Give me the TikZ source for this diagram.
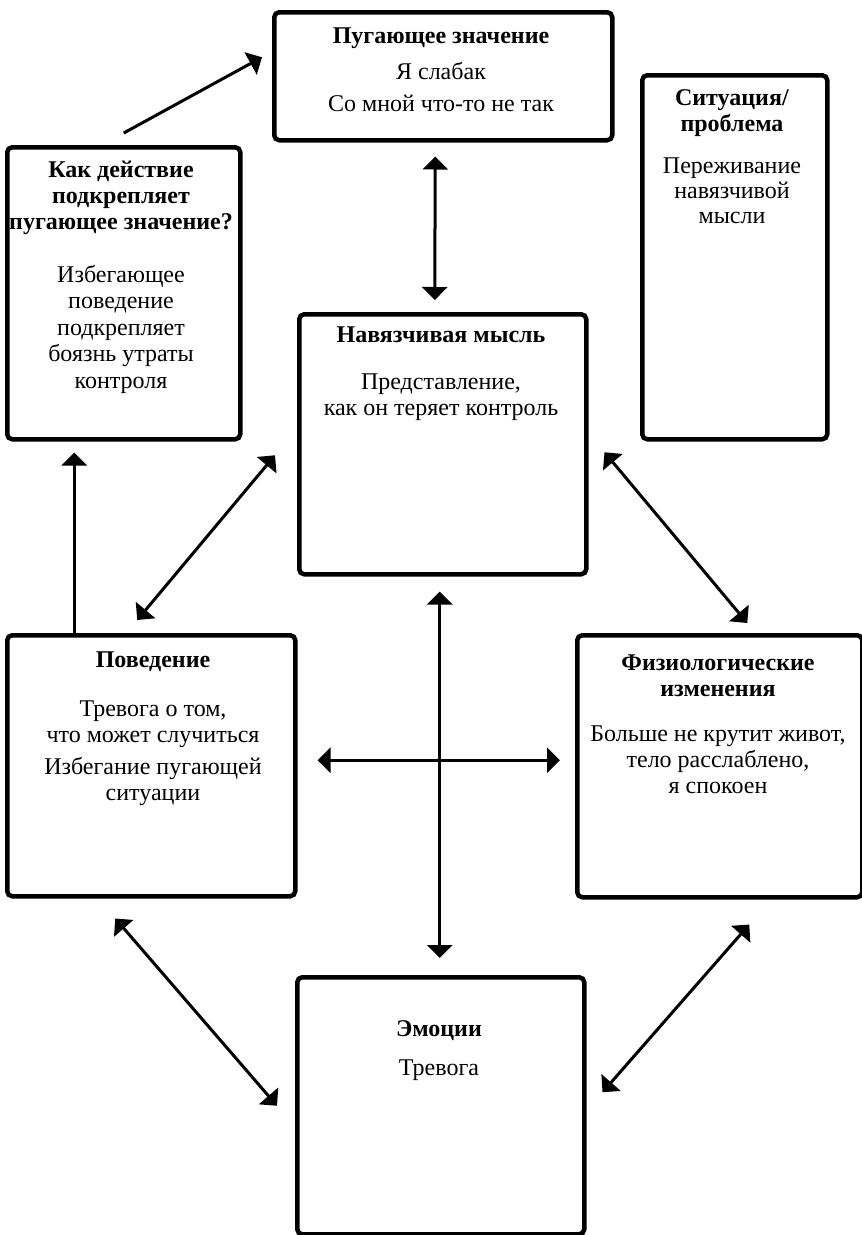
\documentclass[tikz,border=0pt]{standalone}
\usepackage{fontspec}
\setmainfont{Liberation Serif}
\usepackage{tikz}
\usetikzlibrary{positioning,calc,arrows.meta}

\begin{document}
\begin{tikzpicture}[x=1pt, y=-1pt,
                    box/.style={draw, line width=4.5pt, rounded corners=5pt, anchor=north west, inner sep=0pt},
                    txt/.style={align=center, anchor=base, inner sep=0pt},
                    arr/.style={line width=3pt, -{Triangle[length=13pt,width=25pt]}},
                    dbl/.style={line width=3pt, {Triangle[length=13pt,width=25pt]}-{Triangle[length=13pt,width=25pt]}},
                    every node/.style={font=\fontsize{24}{26}\selectfont}]
  \useasboundingbox (0,0) rectangle (862,1235);
  % boxes
  \node[box, minimum width=338pt, minimum height=128pt] (meaning) at (272,10) {};
  \node[box, minimum width=233pt, minimum height=292pt] (reinforce) at (5,145) {};
  \node[box, minimum width=185pt, minimum height=364pt] (situation) at (640,73) {};
  \node[box, minimum width=287pt, minimum height=260pt] (thought) at (297,312) {};
  \node[box, minimum width=288pt, minimum height=261pt] (behaviour) at (5,633) {};
  \node[box, minimum width=285pt, minimum height=262pt] (physio) at (575,633) {};
  \node[box, minimum width=287pt, minimum height=257pt] (emotion) at (295,975) {};
  % texts (placed at the baseline of their last line)
  \node[txt] (meaningtxt) at (441,111)
    {\textbf{Пугающее значение}\\[10pt] Я слабак\\[6pt] Со мной что-то не так};
  \node[txt] (reinforcetxt) at (121,388)
    {\textbf{Как действие}\\ \textbf{подкрепляет}\\ \textbf{пугающее значение?}\\[27pt]
     Избегающее\\[0.5pt] поведение\\[0.5pt] подкрепляет\\[0.5pt] боязнь утраты\\[0.5pt] контроля};
  \node[txt] (situationtxt) at (732,223)
    {\textbf{Ситуация/}\\ \textbf{проблема}\\[16pt] Переживание\\[-1pt] навязчивой\\[-1pt] мысли};
  \node[txt] (thoughttxt) at (441,415)
    {\textbf{Навязчивая мысль}\\[21pt] Представление,\\ как он теряет контроль};
  \node[txt] (behaviourtxt) at (153,800)
    {\textbf{Поведение}\\[23.5pt] Тревога о том,\\ что может случиться\\[5.5pt] Избегание пугающей\\ ситуации};
  \node[txt] (physiotxt) at (718,793)
    {\textbf{Физиологические}\\ \textbf{изменения}\\[19pt] Больше не крутит живот,\\ тело расслаблено,\\ я спокоен};
  \node[txt] (emotiontxt) at (439,1075)
    {\textbf{Эмоции}\\[13pt] Тревога};
  % arrows
  \draw[arr] ([yshift=12pt]reinforce.north) -- ([xshift=-10pt,yshift=19pt]meaning.west);
  \draw[dbl, shorten <=14pt, shorten >=12pt] ([xshift=-8pt]meaning.south) -- ([xshift=-8pt]thought.north);
  \draw[arr] ([xshift=-77pt]behaviour.north) -- ([xshift=-49.5pt,yshift=-11pt]reinforce.south);
  \draw[dbl] ([xshift=-14pt,yshift=13pt]behaviour.north) -- ([xshift=-22pt,yshift=-11pt]thought.west);
  \draw[dbl] ([xshift=16pt,yshift=-8pt]thought.east) -- ([xshift=27.5pt,yshift=10pt]physio.north);
  \draw[dbl, shorten <=15pt, shorten >=17pt] ([xshift=-3pt]thought.south) -- ([xshift=-1pt]emotion.north);
  \draw[dbl] ([xshift=20pt,yshift=5.5pt]behaviour.east) -- ([xshift=-15pt,yshift=6pt]physio.west);
  \draw[dbl] ([xshift=-36pt,yshift=-20pt]behaviour.south) -- ([xshift=-18pt]emotion.west);
  \draw[dbl] ([xshift=29.5pt,yshift=-25pt]physio.south) -- ([xshift=16pt,yshift=13.5pt]emotion.east);
\end{tikzpicture}
\end{document}
